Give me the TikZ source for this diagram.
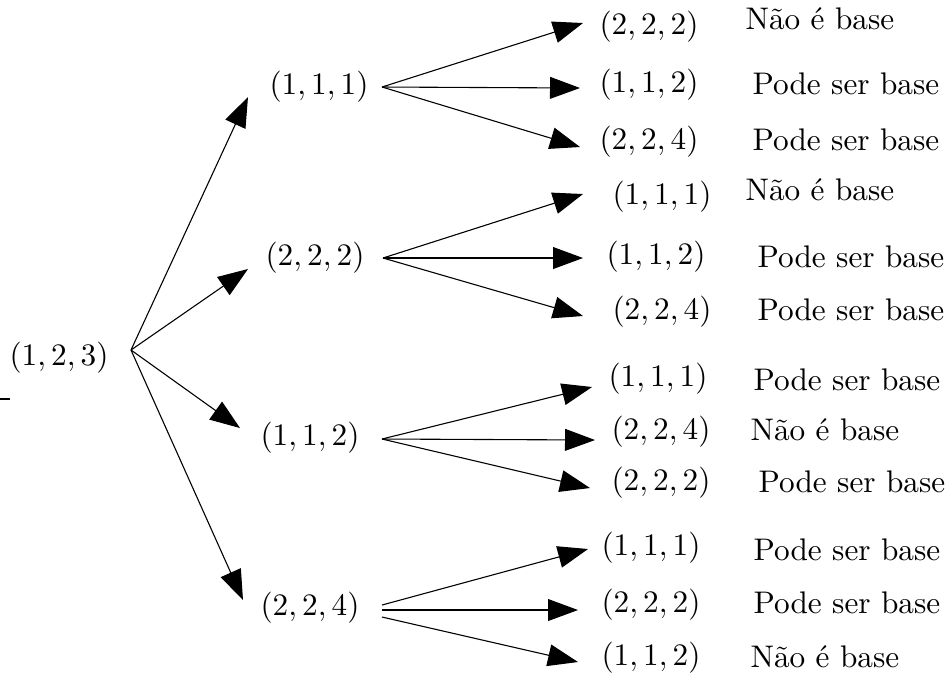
\documentclass[tikz,border=0pt]{standalone}
\usetikzlibrary{arrows.meta}
\begin{document}
\begin{tikzpicture}[x=0.32pt,y=-0.32pt,
  every node/.style={inner sep=0pt, text height=7.5pt, text depth=2.5pt},
  arr/.style={-{Triangle[length=9.6pt,width=7pt]}, line width=0.35pt},
  lbl/.style={anchor=west}]
\useasboundingbox (0,0) rectangle (948,677);
% stray mark
\draw[line width=0.7pt] (0,399) -- (10,399);
% level 1 and 2
\node (r) at (59,358) {$(1,2,3)$};
\node (a) at (319,87) {$(1,1,1)$};
\node (b) at (315,258) {$(2,2,2)$};
\node (c) at (310,438) {$(1,1,2)$};
\node (d) at (310,608) {$(2,2,4)$};
% level 3
\node (a1) at (649,27) {$(2,2,2)$};
\node (a2) at (649,85) {$(1,1,2)$};
\node (a3) at (649,142) {$(2,2,4)$};
\node (b1) at (662,197) {$(1,1,1)$};
\node (b2) at (656,257) {$(1,1,2)$};
\node (b3) at (662,312) {$(2,2,4)$};
\node (c1) at (658,379) {$(1,1,1)$};
\node (c2) at (661,432) {$(2,2,4)$};
\node (c3) at (661,483) {$(2,2,2)$};
\node (d1) at (651,548) {$(1,1,1)$};
\node (d2) at (651,605) {$(2,2,2)$};
\node (d3) at (651,658) {$(1,1,2)$};
% labels
\node[lbl] (la1) at (745,22) {Não é base};
\node[lbl] (la2) at (752,87) {Pode ser base};
\node[lbl] (la3) at (752,143) {Pode ser base};
\node[lbl] (lb1) at (745,193) {Não é base};
\node[lbl] (lb2) at (757,260) {Pode ser base};
\node[lbl] (lb3) at (757,313) {Pode ser base};
\node[lbl] (lc1) at (753,383) {Pode ser base};
\node[lbl] (lc2) at (750,433) {Não é base};
\node[lbl] (lc3) at (758,485) {Pode ser base};
\node[lbl] (ld1) at (753,553) {Pode ser base};
\node[lbl] (ld2) at (753,606) {Pode ser base};
\node[lbl] (ld3) at (750,660) {Não é base};
% connector ends
\coordinate (o) at (131,350);
\coordinate (ta) at (248,97);
\coordinate (tb) at (248,269);
\coordinate (tc) at (240,428);
\coordinate (td) at (243,600);
\coordinate (oa) at (382,87);
\coordinate (ta1) at (583,23);
\coordinate (ta2) at (580,88);
\coordinate (ta3) at (580,147);
\coordinate (ob) at (383,258);
\coordinate (tb1) at (583,194);
\coordinate (tb2) at (583,258);
\coordinate (tb3) at (583,316);
\coordinate (oc) at (382,439);
\coordinate (tc1) at (592,387);
\coordinate (tc2) at (595,440);
\coordinate (tc3) at (590,488);
\coordinate (od1) at (382,605);
\coordinate (od2) at (382,610);
\coordinate (od3) at (382,617);
\coordinate (td1) at (588,549);
\coordinate (td2) at (578,610);
\coordinate (td3) at (578,662);
% connectors
\draw[arr] (o) -- (ta);
\draw[arr] (o) -- (tb);
\draw[arr] (o) -- (tc);
\draw[arr] (o) -- (td);
\draw[arr] (oa) -- (ta1);
\draw[arr] (oa) -- (ta2);
\draw[arr] (oa) -- (ta3);
\draw[arr] (ob) -- (tb1);
\draw[arr] (ob) -- (tb2);
\draw[arr] (ob) -- (tb3);
\draw[arr] (oc) -- (tc1);
\draw[arr] (oc) -- (tc2);
\draw[arr] (oc) -- (tc3);
\draw[arr] (od1) -- (td1);
\draw[arr] (od2) -- (td2);
\draw[arr] (od3) -- (td3);
\end{tikzpicture}
\end{document}
